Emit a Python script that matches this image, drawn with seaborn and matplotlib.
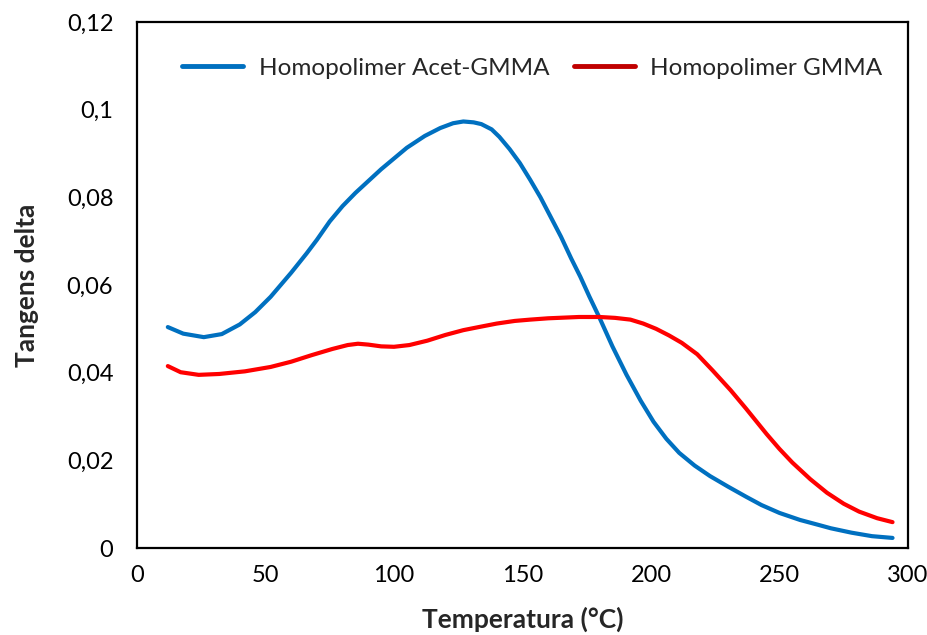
import numpy as np
import pandas as pd
import seaborn as sns
import matplotlib.pyplot as plt
from matplotlib.ticker import FuncFormatter, MultipleLocator

temp_acet = [12, 18, 26, 33, 40, 46, 52, 60, 66, 70, 75, 80, 85, 95, 105, 112, 118,
             123, 127, 131, 134, 138, 141, 145, 149, 153, 157, 161, 165, 169, 172.5,
             176, 180, 185, 190.5, 196, 201, 206, 211, 217, 223, 230, 237, 243, 250,
             258, 265, 270, 278, 286, 294]
tan_acet = [0.0504, 0.0489, 0.0481, 0.0488, 0.0510, 0.0538, 0.0573, 0.0628, 0.0672,
            0.0703, 0.0745, 0.0780, 0.0810, 0.0864, 0.0913, 0.0940, 0.0958, 0.0969,
            0.0973, 0.0971, 0.0967, 0.0955, 0.0938, 0.0910, 0.0878, 0.0840, 0.0800,
            0.0755, 0.0710, 0.0660, 0.0619, 0.0574, 0.0525, 0.0460, 0.0395, 0.0336,
            0.0288, 0.0249, 0.0217, 0.0188, 0.0164, 0.0140, 0.0117, 0.0098, 0.0080,
            0.0064, 0.0053, 0.0045, 0.0035, 0.0027, 0.0023]

temp_gmma = [12, 17, 24, 32, 42, 52, 60, 68, 76, 82, 86, 90, 95, 100, 106, 113, 120,
             127, 133, 140, 147, 153, 160, 172, 180, 186, 192, 197, 202, 207, 212,
             218, 224, 231, 237, 245, 250, 255, 262, 268.5, 275, 281, 288, 294]
tan_gmma = [0.0415, 0.0401, 0.0395, 0.0397, 0.0403, 0.0413, 0.0425, 0.0440, 0.0454,
            0.0463, 0.0466, 0.0464, 0.0460, 0.0459, 0.0463, 0.0473, 0.0486, 0.0497,
            0.0504, 0.0512, 0.0518, 0.0521, 0.0524, 0.0527, 0.0527, 0.0525, 0.0521,
            0.0512, 0.0500, 0.0485, 0.0468, 0.0442, 0.0405, 0.0360, 0.0318, 0.0260,
            0.0226, 0.0195, 0.0157, 0.0126, 0.0101, 0.0083, 0.0068, 0.0059]

nazwy = ["Homopolimer Acet-GMMA", "Homopolimer GMMA"]

df = pd.concat([
    pd.DataFrame({"T": temp_acet, "tan": tan_acet, "seria": nazwy[0]}),
    pd.DataFrame({"T": temp_gmma, "tan": tan_gmma, "seria": nazwy[1]}),
])

sns.set_theme(style="white")
plt.rcParams['font.family'] = ['Lato', 'DejaVu Sans']

fig = plt.figure(figsize=(9.28, 6.35), dpi=100)
ax = fig.add_axes([0.1476, 0.137, 0.8308, 0.8284])

sns.lineplot(data=df, x="T", y="tan", hue="seria", hue_order=nazwy,
             palette=["#0070C0", "#FF0000"], linewidth=3.0, ax=ax)

ax.set_xlim(0, 300)
ax.set_ylim(0, 0.12)
ax.xaxis.set_major_locator(MultipleLocator(50))
ax.yaxis.set_major_locator(MultipleLocator(0.02))
ax.yaxis.set_major_formatter(FuncFormatter(
    lambda v, p: f"{v:.2f}".rstrip('0').replace('.', ',') if v else "0"))
ax.tick_params(length=0, labelsize=17, colors="black")
ax.tick_params(axis='x', pad=12)
ax.tick_params(axis='y', pad=17)

for s in ax.spines.values():
    s.set_visible(True)
    s.set_color("black")
    s.set_linewidth(1.6)

ax.set_xlabel("Temperatura (°C)", fontsize=19, fontweight="bold", labelpad=15)
ax.set_ylabel("Tangens delta", fontsize=19, fontweight="bold", labelpad=20)

leg = ax.legend(loc="center", bbox_to_anchor=(0.513, 0.9125), ncol=2,
                frameon=False, fontsize=17.5, handlelength=2.5, columnspacing=1.0,
                handletextpad=0.65)
leg.get_lines()[1].set_color("#C00000")
for ln in leg.get_lines():
    ln.set_linewidth(3.5)

fig.savefig("out.png", dpi=100)
